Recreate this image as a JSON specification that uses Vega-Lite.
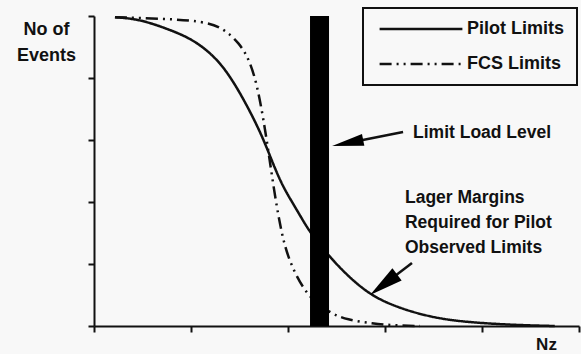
{
  "$schema": "https://vega.github.io/schema/vega-lite/v6.json",
  "width": 485,
  "height": 310,
  "autosize": {"type": "none"},
  "padding": {"left": 94, "top": 16, "right": 2, "bottom": 28},
  "background": "#f8f8f8",
  "config": {
    "view": {"stroke": null},
    "font": "Liberation Sans",
    "axis": {"grid": false, "labels": false, "domainColor": "#111", "domainWidth": 2, "tickColor": "#111", "tickWidth": 2, "tickSize": 6, "titleFont": "Liberation Sans", "titleFontWeight": "bold", "titleFontSize": 18, "titleColor": "#111"}
  },
  "datasets": {
    "curves": [
      {"series": "Pilot Limits", "nz": 0.216, "events": 4.98},
      {"series": "Pilot Limits", "nz": 0.474, "events": 4.95},
      {"series": "Pilot Limits", "nz": 0.814, "events": 4.76},
      {"series": "Pilot Limits", "nz": 1.0, "events": 4.63},
      {"series": "Pilot Limits", "nz": 1.165, "events": 4.45},
      {"series": "Pilot Limits", "nz": 1.3, "events": 4.24},
      {"series": "Pilot Limits", "nz": 1.402, "events": 4.02},
      {"series": "Pilot Limits", "nz": 1.505, "events": 3.76},
      {"series": "Pilot Limits", "nz": 1.639, "events": 3.37},
      {"series": "Pilot Limits", "nz": 1.75, "events": 3.0},
      {"series": "Pilot Limits", "nz": 1.845, "events": 2.62},
      {"series": "Pilot Limits", "nz": 1.948, "events": 2.24},
      {"series": "Pilot Limits", "nz": 2.093, "events": 1.87},
      {"series": "Pilot Limits", "nz": 2.227, "events": 1.5},
      {"series": "Pilot Limits", "nz": 2.433, "events": 1.11},
      {"series": "Pilot Limits", "nz": 2.608, "events": 0.82},
      {"series": "Pilot Limits", "nz": 2.845, "events": 0.5},
      {"series": "Pilot Limits", "nz": 3.124, "events": 0.3},
      {"series": "Pilot Limits", "nz": 3.464, "events": 0.145},
      {"series": "Pilot Limits", "nz": 3.804, "events": 0.065},
      {"series": "Pilot Limits", "nz": 4.32, "events": 0.016},
      {"series": "Pilot Limits", "nz": 4.75, "events": 0.0},
      {"series": "FCS Limits", "nz": 0.216, "events": 4.98},
      {"series": "FCS Limits", "nz": 1.093, "events": 4.94},
      {"series": "FCS Limits", "nz": 1.33, "events": 4.81},
      {"series": "FCS Limits", "nz": 1.5, "events": 4.56},
      {"series": "FCS Limits", "nz": 1.6, "events": 4.3},
      {"series": "FCS Limits", "nz": 1.68, "events": 3.9},
      {"series": "FCS Limits", "nz": 1.745, "events": 3.35},
      {"series": "FCS Limits", "nz": 1.8, "events": 2.8},
      {"series": "FCS Limits", "nz": 1.855, "events": 2.2},
      {"series": "FCS Limits", "nz": 1.92, "events": 1.6},
      {"series": "FCS Limits", "nz": 2.0, "events": 1.07},
      {"series": "FCS Limits", "nz": 2.196, "events": 0.47},
      {"series": "FCS Limits", "nz": 2.433, "events": 0.21},
      {"series": "FCS Limits", "nz": 2.608, "events": 0.1},
      {"series": "FCS Limits", "nz": 2.876, "events": 0.04},
      {"series": "FCS Limits", "nz": 3.08, "events": 0.01},
      {"series": "FCS Limits", "nz": 3.36, "events": 0.0}
    ]
  },
  "layer": [
    {
      "data": {"name": "curves"},
      "mark": {"type": "line", "color": "#111", "strokeWidth": 2.5, "interpolate": "basis"},
      "encoding": {
        "x": {"field": "nz", "type": "quantitative", "scale": {"domain": [0, 5], "nice": false, "zero": false}, "axis": {"values": [0, 1, 2, 3, 4, 5], "title": "Nz", "titleX": 452, "titleY": 18, "titleAlign": "center", "titleBaseline": "middle", "titleFontSize": 17}},
        "y": {"field": "events", "type": "quantitative", "scale": {"domain": [0, 5], "nice": false, "zero": false}, "axis": {"values": [0, 1, 2, 3, 4, 5], "title": ["No of", "Events"], "titleAngle": 0, "titleX": -48, "titleY": 13, "titleAlign": "center", "titleBaseline": "middle", "titleLineHeight": 26}},
        "detail": {"field": "series"},
        "strokeDash": {
          "field": "series", "type": "nominal",
          "scale": {"domain": ["Pilot Limits", "FCS Limits"], "range": [[1, 0], [12, 5, 2, 5, 2, 5]]},
          "legend": {
            "title": null, "orient": "none", "legendX": 269, "legendY": -8,
            "symbolType": "M-9.2,0H9.2", "symbolSize": 81, "symbolOffset": 37, "symbolStrokeWidth": 2.5, "symbolStrokeColor": "#111",
            "labelFont": "Liberation Sans", "labelFontWeight": "bold", "labelFontSize": 18, "labelColor": "#111", "labelLimit": 300, "labelOffset": 37,
            "padding": 12, "rowPadding": 17, "strokeColor": "#111",
            "encode": {"legend": {"update": {"strokeWidth": {"value": 2}}}}
          }
        }
      }
    },
    {
      "data": {"values": [{"nz": 2.227, "nz2": 2.423, "events": 0, "events2": 5}]},
      "mark": {"type": "rect", "color": "#000"},
      "encoding": {
        "x": {"field": "nz", "type": "quantitative"},
        "x2": {"field": "nz2"},
        "y": {"field": "events", "type": "quantitative"},
        "y2": {"field": "events2"}
      }
    },
    {
      "data": {"values": [
        {"nz": 3.186, "events": 3.129, "nz2": 2.615, "events2": 2.953},
        {"nz": 3.278, "events": 1.016, "nz2": 2.985, "events2": 0.666}
      ]},
      "mark": {"type": "rule", "color": "#111", "strokeWidth": 2.5},
      "encoding": {
        "x": {"field": "nz", "type": "quantitative"},
        "x2": {"field": "nz2"},
        "y": {"field": "events", "type": "quantitative"},
        "y2": {"field": "events2"}
      }
    },
    {
      "data": {"values": [{"nz": 2.615, "events": 2.953}]},
      "mark": {"type": "point", "shape": "M0,-1L0.38,1L-0.38,1Z", "filled": true, "color": "#000", "opacity": 1, "size": 1000, "angle": 258.8},
      "encoding": {
        "x": {"field": "nz", "type": "quantitative"},
        "y": {"field": "events", "type": "quantitative"}
      }
    },
    {
      "data": {"values": [{"nz": 2.985, "events": 0.666}]},
      "mark": {"type": "point", "shape": "M0,-1L0.45,1L-0.45,1Z", "filled": true, "color": "#000", "opacity": 1, "size": 1150, "angle": 232.7},
      "encoding": {
        "x": {"field": "nz", "type": "quantitative"},
        "y": {"field": "events", "type": "quantitative"}
      }
    },
    {
      "data": {"values": [
        {"nz": 3.289, "events": 3.113, "label": "Limit Load Level"},
        {"nz": 3.206, "events": 2.065, "label": "Lager Margins"},
        {"nz": 3.206, "events": 1.661, "label": "Required for Pilot"},
        {"nz": 3.206, "events": 1.258, "label": "Observed Limits"}
      ]},
      "mark": {"type": "text", "align": "left", "baseline": "middle", "font": "Liberation Sans", "fontWeight": "bold", "fontSize": 17.5, "color": "#111"},
      "encoding": {
        "x": {"field": "nz", "type": "quantitative"},
        "y": {"field": "events", "type": "quantitative"},
        "text": {"field": "label"}
      }
    }
  ]
}
